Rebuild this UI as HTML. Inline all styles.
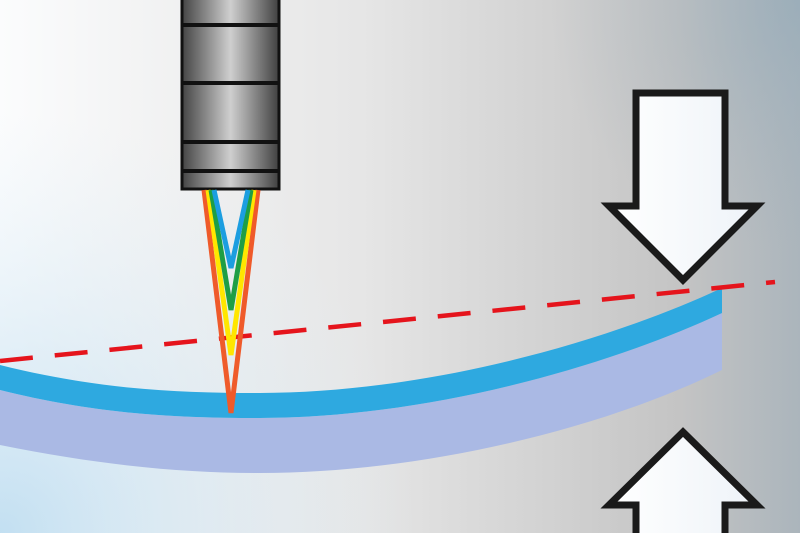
<!DOCTYPE html>
<html><head><style>html,body{margin:0;padding:0;}body{width:800px;height:533px;overflow:hidden;}</style></head>
<body>
<svg width="800" height="533" viewBox="0 0 800 533" xmlns="http://www.w3.org/2000/svg">
<defs>
<linearGradient id="bg" x1="0" y1="0" x2="1" y2="0">
<stop offset="0" stop-color="#fbfcfd"/><stop offset="0.45" stop-color="#e6e6e6"/><stop offset="0.85" stop-color="#c4c4c4"/><stop offset="1" stop-color="#abb5bc"/>
</linearGradient>
<radialGradient id="bl" cx="0" cy="533" r="420" gradientUnits="userSpaceOnUse">
<stop offset="0" stop-color="#bcdcf0" stop-opacity="0.9"/><stop offset="1" stop-color="#dfeef7" stop-opacity="0"/>
</radialGradient>
<radialGradient id="tr" cx="800" cy="0" r="250" gradientUnits="userSpaceOnUse">
<stop offset="0" stop-color="#8fa8b8" stop-opacity="0.55"/><stop offset="1" stop-color="#a0b0bb" stop-opacity="0"/>
</radialGradient>
<linearGradient id="cyl" x1="0" y1="0" x2="1" y2="0">
<stop offset="0" stop-color="#444"/><stop offset="0.5" stop-color="#cfcfcf"/><stop offset="1" stop-color="#404040"/>
</linearGradient>
<linearGradient id="ar" x1="0" y1="0" x2="1" y2="0">
<stop offset="0" stop-color="#ffffff"/><stop offset="1" stop-color="#eef3f8"/>
</linearGradient>
</defs>
<rect width="800" height="533" fill="url(#bg)"/>
<rect width="800" height="533" fill="url(#bl)"/>
<rect width="800" height="533" fill="url(#tr)"/>
<path d="M0,390 C100,415 180,418 260,418 C420,418 600,370 722,313 L722,370 C600,430 420,473 260,473 C180,473 100,465 0,445 Z" fill="#aab9e4"/>
<path d="M0,365 C100,390 180,393 260,393 C420,393 600,345 722,288 L722,313 C600,370 420,418 260,418 C180,418 100,415 0,390 Z" fill="#2ea9e0"/>
<line x1="0" y1="361" x2="775" y2="282" stroke="#e5141c" stroke-width="4.5" stroke-dasharray="33,22"/>
<rect x="182" y="-5" width="97" height="194" fill="url(#cyl)" stroke="#111" stroke-width="3"/>
<g stroke="#111" stroke-width="4">
<line x1="182" y1="25" x2="279" y2="25"/><line x1="182" y1="83" x2="279" y2="83"/><line x1="182" y1="142" x2="279" y2="142"/><line x1="182" y1="171" x2="279" y2="171"/>
</g>
<g fill="none" stroke-width="5" stroke-linejoin="miter">
<polyline points="204,190 231,413 258,190" stroke="#ef5a2a"/>
<polyline points="208,190 231,355 254,190" stroke="#ffe600"/>
<polyline points="211,190 231,310 251,190" stroke="#1e9e45"/>
<polyline points="214,190 231,268 248,190" stroke="#1c9ee0"/>
</g>
<path d="M636,93 L725,93 L725,206 L757,206 L683,280 L609,206 L636,206 Z" fill="url(#ar)" stroke="#1a1a1a" stroke-width="7" stroke-linejoin="miter"/>
<path d="M683,432 L757,505 L725,505 L725,540 L636,540 L636,505 L609,505 Z" fill="url(#ar)" stroke="#1a1a1a" stroke-width="7" stroke-linejoin="miter"/>
</svg>
</body></html>
